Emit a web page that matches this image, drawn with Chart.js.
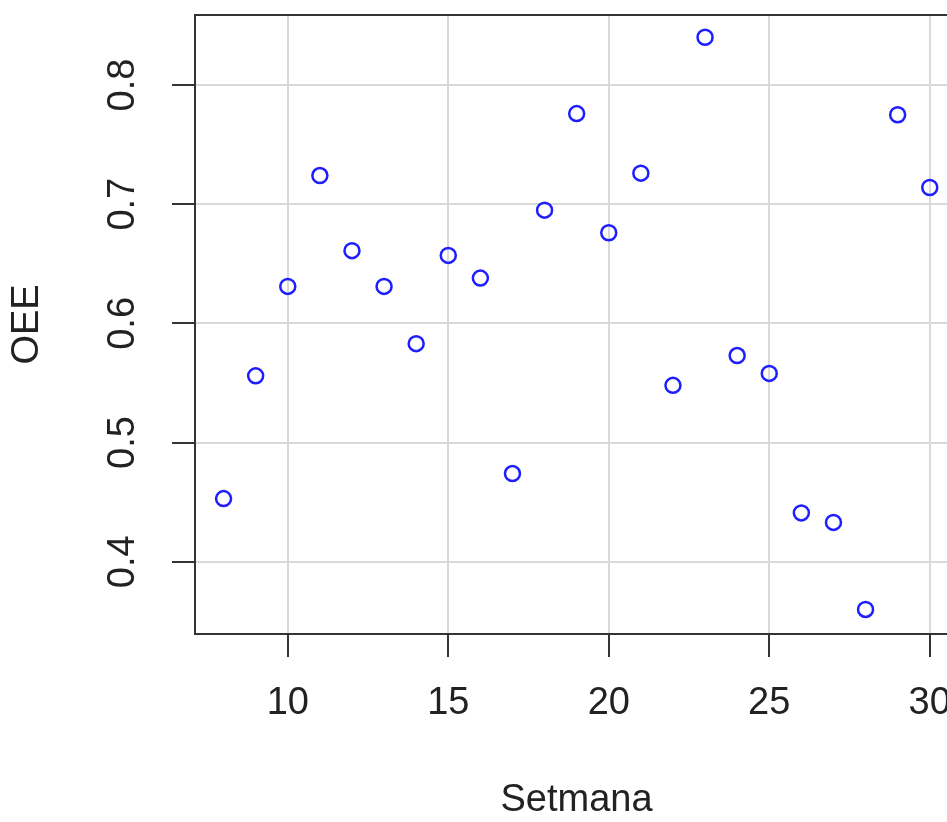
<!DOCTYPE html>
<html>
<head>
<meta charset="utf-8">
<title>OEE per setmana</title>
<script src="https://cdn.jsdelivr.net/npm/chart.js@4/dist/chart.umd.min.js"></script>
<style>
  body { margin: 0; overflow: hidden; background: #fff; }
</style>
</head>
<body>
<canvas id="graph" width="980" height="822"></canvas>
<script>
// dades llegides del grafic
var setmanes = [8, 9, 10, 11, 12, 13, 14, 15, 16, 17, 18, 19, 20, 21, 22, 23, 24, 25, 26, 27, 28, 29, 30];
var oee = [0.453, 0.556, 0.631, 0.724, 0.661, 0.631, 0.583, 0.657, 0.638, 0.474, 0.695,
           0.776, 0.676, 0.726, 0.548, 0.840, 0.573, 0.558, 0.441, 0.433, 0.360, 0.775, 0.714];
var xTicks = [10, 15, 20, 25, 30];
var yTicks = [0.4, 0.5, 0.6, 0.7, 0.8];

var font = 'Liberation Sans, Arial, sans-serif';
var textColor = '#222';

var punts = [];
for (var i = 0; i < setmanes.length; i++) {
  punts.push({x: setmanes[i], y: oee[i]});
}

// caixa al voltant de la zona del grafic (estil R)
var frame = {
  id: 'frame',
  afterDraw: function(chart) {
    var a = chart.chartArea;
    var ctx = chart.ctx;
    ctx.save();
    ctx.strokeStyle = '#333';
    ctx.lineWidth = 2;
    ctx.strokeRect(a.left, a.top, a.right - a.left, a.bottom - a.top);
    ctx.restore();
  }
};

var ctx = document.getElementById('graph');
var myChart = new Chart(ctx, {
  type: 'scatter',
  data: {
    datasets: [{
      data: punts,
      pointStyle: 'circle',
      pointRadius: 7.5,
      pointBorderWidth: 2.5,
      pointBorderColor: 'rgb(30,30,255)',
      pointBackgroundColor: 'rgba(0,0,0,0)',
      showLine: false
    }]
  },
  options: {
    responsive: false,
    animation: false,
    layout: { padding: { top: 15, right: 22, left: 0, bottom: 0 } },
    plugins: { legend: { display: false }, tooltip: { enabled: false } },
    scales: {
      x: {
        type: 'linear',
        min: 7.11,
        max: 30.88,
        afterFit: function(scale) {
          scale.height = 188;
          scale.paddingLeft = 0;
          scale.paddingRight = 0;
        },
        afterBuildTicks: function(scale) {
          scale.ticks = xTicks.map(function(v) { return {value: v}; });
        },
        border: { display: false },
        grid: { color: '#d9d9d9', lineWidth: 2, tickColor: '#333', tickWidth: 2, tickLength: 23 },
        ticks: {
          color: textColor,
          font: { family: font, size: 38 },
          padding: 24,
          maxRotation: 0,
          callback: function(v) { return v; }
        },
        title: {
          display: true,
          text: 'Setmana',
          color: textColor,
          font: { family: font, size: 38, lineHeight: 1 },
          padding: { top: 0, bottom: 2 }
        }
      },
      y: {
        type: 'linear',
        min: 0.3394,
        max: 0.8587,
        afterFit: function(scale) {
          scale.width = 195;
          scale.paddingTop = 0;
          scale.paddingBottom = 0;
        },
        afterBuildTicks: function(scale) {
          scale.ticks = yTicks.map(function(v) { return {value: v}; });
        },
        border: { display: false },
        grid: { color: '#d9d9d9', lineWidth: 2, tickColor: '#333', tickWidth: 2, tickLength: 23 },
        ticks: {
          color: textColor,
          font: { family: font, size: 38 },
          padding: 22,
          minRotation: 90,
          maxRotation: 90,
          crossAlign: 'center',
          callback: function(v) { return v.toFixed(1); }
        },
        title: {
          display: true,
          text: 'OEE',
          color: textColor,
          font: { family: font, size: 38, lineHeight: 1 },
          padding: { top: 9, bottom: 0 }
        }
      }
    }
  },
  plugins: [frame]
});
</script>
</body>
</html>
